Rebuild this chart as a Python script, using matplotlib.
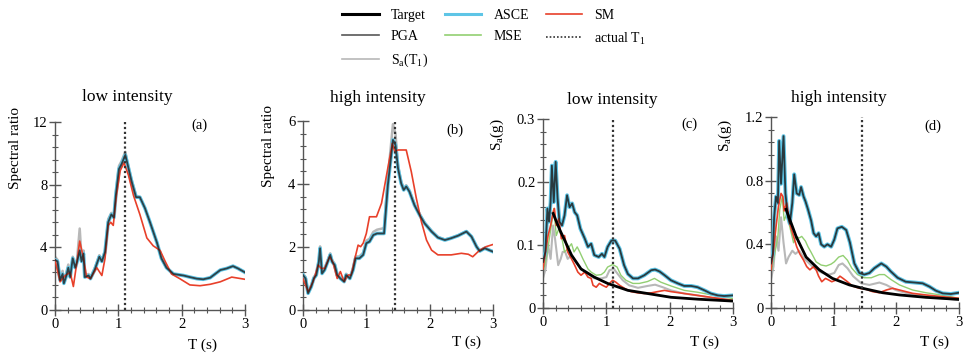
import numpy as np
import matplotlib
matplotlib.use("Agg")
import matplotlib.pyplot as plt
from matplotlib.ticker import MultipleLocator, FuncFormatter
from matplotlib.lines import Line2D

plt.rcParams['font.family'] = ['Liberation Serif', 'DejaVu Serif']
plt.rcParams['mathtext.fontset'] = 'custom'
plt.rcParams['mathtext.rm'] = 'Liberation Serif'

# ---------------- data ----------------
T1_low = 1.1
T1_high = 1.45

# (a) spectral ratio, low intensity -- PGA / ASCE / MSE coincide
a_T = [0, .04, .08, .12, .14, .18, .21, .24, .28, .32, .35, .39, .42, .45, .47, .53, .56, .63,
       .70, .74, .79, .84, .89, .93, .96, 1.01, 1.05, 1.11, 1.14, 1.21, 1.28, 1.34, 1.42, 1.50,
       1.61, 1.68, 1.76, 1.87, 2.03, 2.13, 2.24, 2.34, 2.45, 2.61, 2.71, 2.81, 2.89, 3.0]
a_lin = [3.2, 3.1, 1.9, 2.3, 1.7, 2.2, 2.7, 2.1, 3.3, 2.7, 3.1, 3.8, 3.1, 3.6, 2.1, 2.2, 2.0, 2.6,
         3.4, 3.1, 3.7, 5.6, 6.1, 5.9, 7.3, 9.0, 9.3, 9.9, 9.4, 8.2, 7.2, 7.2, 6.5, 5.6,
         4.3, 3.3, 2.7, 2.3, 2.2, 2.1, 2.0, 1.96, 2.06, 2.55, 2.65, 2.8, 2.65, 2.4]
a_sa = [3.4, 3.2, 2.0, 2.5, 1.8, 2.4, 2.9, 2.2, 3.4, 2.8, 3.3, 5.2, 3.3, 3.8, 2.2, 2.3, 2.1, 2.7,
        3.5, 3.2, 3.8, 5.8, 6.2, 6.0, 7.5, 9.2, 9.5, 10.1, 9.5, 8.3, 7.3, 7.2, 6.5, 5.6,
        4.3, 3.3, 2.7, 2.3, 2.2, 2.1, 2.0, 1.96, 2.06, 2.55, 2.65, 2.8, 2.65, 2.4]
a_sm_T = [0, .08, .16, .24, .29, .34, .39, .45, .50, .56, .66, .74, .79, .84, .88, .92, .97, 1.03,
          1.09, 1.16, 1.24, 1.34, 1.45, 1.55, 1.66, 1.74, 1.84, 1.97, 2.13, 2.29, 2.45, 2.61, 2.79, 3.0]
a_sm = [3.2, 1.8, 2.2, 2.4, 1.5, 2.9, 4.4, 3.3, 2.1, 2.0, 2.7, 2.2, 3.3, 5.4, 5.6, 5.4, 7.3, 8.9,
        9.4, 8.6, 7.3, 6.1, 4.6, 4.1, 3.8, 3.1, 2.3, 2.0, 1.6, 1.55, 1.64, 1.8, 2.1, 1.96]

# (b) spectral ratio, high intensity
b_T = [0, .04, .08, .13, .17, .21, .25, .27, .30, .34, .39, .43, .46, .50, .54, .59, .65, .68,
       .74, .79, .83, .89, .95, 1.0, 1.05, 1.11, 1.17, 1.28, 1.34, 1.42, 1.46, 1.50, 1.55, 1.59,
       1.63, 1.68, 1.76, 1.84, 1.92, 2.03, 2.13, 2.24, 2.34, 2.45, 2.58, 2.66, 2.74, 2.79, 2.87, 3.0]
b_lin = [1.11, 1.0, 0.53, 0.74, 1.0, 1.11, 1.53, 1.96, 1.16, 1.27, 1.53, 1.75, 1.53, 1.43, 1.11,
         1.0, 0.9, 1.11, 1.0, 1.27, 1.64, 1.64, 1.75, 2.12, 2.17, 2.38, 2.43, 2.43, 3.97, 5.4,
         5.24, 4.5, 4.02, 3.81, 3.92, 3.76, 3.33, 3.02, 2.75, 2.49, 2.30, 2.22, 2.28, 2.36, 2.49,
         2.33, 2.01, 1.87, 1.96, 1.85]
b_sa = [1.15, 1.05, 0.56, 0.78, 1.04, 1.15, 1.58, 2.02, 1.2, 1.31, 1.58, 1.8, 1.58, 1.47, 1.15,
        1.04, 0.93, 1.15, 1.04, 1.32, 1.7, 1.7, 1.82, 2.2, 2.26, 2.48, 2.55, 2.6, 4.2, 5.9,
        5.6, 4.6, 4.08, 3.86, 3.96, 3.8, 3.37, 3.06, 2.78, 2.52, 2.32, 2.24, 2.29, 2.37, 2.5,
        2.34, 2.02, 1.88, 1.97, 1.86]
b_sm_T = [0, .08, .16, .24, .29, .34, .42, .47, .54, .59, .65, .71, .76, .82, .87, .91, .95, 1.0,
          1.05, 1.16, 1.24, 1.32, 1.41, 1.45, 1.50, 1.63, 1.71, 1.79, 1.87, 1.95, 2.03, 2.13, 2.34,
          2.50, 2.61, 2.68, 2.79, 2.89, 3.0]
b_sm = [1.0, 0.58, 0.9, 1.43, 1.32, 1.32, 1.69, 1.53, 1.0, 1.22, 0.9, 1.11, 1.11, 1.64, 2.06, 2.01,
        2.12, 2.43, 2.96, 2.96, 3.39, 4.29, 5.29, 5.03, 5.08, 5.08, 4.39, 3.54, 2.80, 2.22, 1.9,
        1.75, 1.75, 1.8, 1.77, 1.69, 1.9, 2.01, 2.08]

# (c) Sa(g), low intensity
c_T = [0, .037, .07, .095, .12, .14, .17, .20, .23, .26, .30, .34, .38, .42, .46, .50, .54, .59,
       .66, .71, .76, .81, .88, .93, .97, 1.02, 1.08, 1.14, 1.21, 1.28, 1.34, 1.42, 1.50, 1.60,
       1.71, 1.77, 1.84, 1.92, 2.02, 2.13, 2.23, 2.34, 2.44, 2.55, 2.65, 2.76, 2.86, 3.0]
c_asce = [.073, .089, .158, .137, .168, .226, .168, .232, .174, .137, .131, .147, .179, .160, .166,
          .152, .147, .126, .110, .097, .102, .084, .081, .086, .081, .097, .107, .107, .094, .068,
          .054, .047, .047, .052, .060, .061, .058, .052, .044, .039, .035, .035, .033, .028, .023,
          .020, .019, .020]
c_sa_T = [0, .04, .08, .12, .16, .19, .24, .28, .31, .35, .39, .45, .52, .60, .71, .81, .92, 1.0,
          1.05, 1.12, 1.18, 1.26, 1.36, 1.5, 1.65, 1.77, 1.89, 2.02, 2.23, 2.44, 2.65, 3.0]
c_sa = [.047, .062, .10, .078, .131, .11, .068, .078, .089, .089, .078, .084, .073, .062, .054,
        .047, .047, .049, .06, .062, .054, .044, .036, .032, .035, .037, .033, .028, .023, .020,
        .016, .012]
c_mse_T = [0, .05, .10, .14, .17, .21, .25, .30, .34, .39, .45, .49, .54, .58, .63, .71, .76, .84,
           .92, .97, 1.02, 1.10, 1.17, 1.23, 1.31, 1.42, 1.52, 1.65, 1.76, 1.86, 2.02, 2.23, 2.44,
           2.65, 3.0]
c_mse = [.057, .078, .11, .137, .158, .115, .126, .11, .089, .094, .102, .089, .097, .089, .078,
         .062, .057, .052, .053, .057, .065, .069, .065, .052, .044, .039, .039, .042, .047, .041,
         .035, .028, .025, .021, .015]
c_sm_T = [0, .04, .08, .12, .16, .18, .21, .25, .29, .34, .39, .45, .50, .55, .60, .66, .71, .76,
          .79, .84, .89, .94, 1.0, 1.05, 1.10, 1.15, 1.21, 1.29, 1.39, 1.5, 1.6, 1.71, 1.81, 1.92,
          2.02, 2.23, 2.44, 2.65, 3.0]
c_sm = [.062, .089, .115, .131, .152, .158, .131, .142, .110, .115, .089, .078, .068, .057, .052,
        .057, .049, .047, .036, .033, .039, .036, .033, .039, .044, .041, .036, .031, .026, .024,
        .023, .024, .026, .028, .026, .023, .020, .017, .012]
c_tgt_T = [.16, .20, .27, .34, .45, .60, .81, 1.02, 1.34, 1.65, 2.02, 2.44, 3.0]
c_tgt = [.15, .14, .123, .108, .084, .062, .049, .039, .028, .023, .017, .014, .011]

# (d) Sa(g), high intensity
d_T = [0, .03, .05, .08, .11, .13, .16, .20, .23, .27, .30, .34, .37, .41, .45, .48, .52, .55,
       .59, .64, .68, .72, .76, .80, .85, .90, .96, 1.01, 1.06, 1.13, 1.20, 1.26, 1.33, 1.41,
       1.49, 1.57, 1.65, 1.76, 1.84, 1.91, 2.02, 2.15, 2.29, 2.42, 2.53, 2.63, 2.74, 2.87, 3.0]
d_asce = [.28, .34, .57, .70, .66, 1.05, .78, 1.08, .72, .57, .53, .66, .84, .72, .71, .76, .70,
          .67, .62, .55, .47, .45, .47, .40, .385, .40, .385, .43, .50, .51, .49, .41, .28, .22,
          .21, .22, .25, .28, .26, .23, .19, .165, .16, .155, .134, .109, .092, .088, .096]
d_sa_T = [0, .04, .08, .12, .16, .20, .24, .28, .34, .39, .45, .53, .61, .72, .82, .93, 1.01, 1.08,
          1.14, 1.22, 1.31, 1.44, 1.57, 1.73, 1.84, 1.99, 2.21, 2.47, 2.74, 3.0]
d_sa = [.18, .26, .45, .36, .57, .41, .28, .32, .36, .34, .36, .31, .28, .24, .22, .21, .22, .27,
        .28, .25, .20, .155, .145, .16, .145, .113, .088, .071, .061, .050]
d_mse_T = [0, .05, .11, .14, .18, .21, .25, .30, .36, .40, .45, .49, .55, .59, .64, .72, .80, .88,
           .96, 1.01, 1.08, 1.15, 1.22, 1.29, 1.38, 1.49, 1.60, 1.73, 1.81, 1.91, 2.05, 2.26, 2.47,
           2.74, 3.0]
d_mse = [.22, .32, .45, .62, .70, .55, .59, .51, .41, .45, .44, .45, .42, .385, .35, .29, .27, .264,
         .276, .29, .32, .33, .30, .25, .21, .19, .19, .21, .21, .18, .145, .113, .096, .08, .061]
d_sm_T = [0, .04, .08, .12, .16, .19, .21, .25, .30, .36, .41, .46, .52, .57, .62, .68, .72, .76,
          .81, .87, .92, .97, 1.04, 1.10, 1.15, 1.22, 1.30, 1.41, 1.52, 1.62, 1.73, 1.84, 1.94,
          2.05, 2.26, 2.47, 2.74, 3.0]
d_sm = [.24, .36, .51, .64, .72, .70, .61, .66, .53, .45, .385, .34, .30, .26, .24, .26, .24, .20,
        .165, .186, .176, .165, .176, .20, .186, .165, .138, .124, .117, .103, .096, .113, .124,
        .113, .092, .082, .071, .061]
d_tgt_T = [.24, .40, .56, .77, .98, 1.25, 1.46, 1.78, 2.05, 2.47, 3.0]
d_tgt = [.62, .45, .32, .24, .186, .145, .124, .096, .082, .067, .054]

# ---------------- styles ----------------
C_TGT = 'black'
C_PGA = '#202020'
C_ASCE = '#5ec5e6'
C_SA = '#b8b8b8'
C_MSE = '#92cf72'
C_SM = '#e8402a'

fig = plt.figure(figsize=(9.63, 3.53), dpi=100)

def W(px):
    return px / 963.0

def H(px):
    return px / 353.0

boxes = [
    (55, 245, 122, 310),
    (303, 493, 121, 310),
    (543, 733, 119, 308),
    (771, 959, 117, 308),
]
axes = []
for l, r, t, b in boxes:
    axes.append(fig.add_axes([W(l), 1 - H(b), W(r - l), H(b - t)]))


def fmt(v, pos):
    if abs(v) < 1e-9:
        return '0'
    return '%g' % round(v, 4)


def style(ax, ymax, major, minor):
    ax.set_xlim(0, 3)
    ax.set_ylim(0, ymax)
    for s in ('top', 'right'):
        ax.spines[s].set_visible(False)
    for s in ('left', 'bottom'):
        ax.spines[s].set_color('#555555')
        ax.spines[s].set_linewidth(1.0)
    ax.xaxis.set_major_locator(MultipleLocator(1))
    ax.xaxis.set_minor_locator(MultipleLocator(0.2))
    ax.yaxis.set_major_locator(MultipleLocator(major))
    ax.yaxis.set_minor_locator(MultipleLocator(minor))
    ax.yaxis.set_major_formatter(FuncFormatter(fmt))
    ax.tick_params(which='major', direction='inout', length=9, width=1.0,
                   color='#555555', labelsize=10.5, pad=1)
    ax.tick_params(which='minor', direction='inout', length=4.5, width=0.8,
                   color='#555555')


def ratio_panel(ax, T, lin, sa, smT, sm, T1):
    ax.plot(T, sa, color=C_SA, lw=1.8, zorder=2)
    ax.plot(T, lin, color=C_MSE, lw=1.0, zorder=2.5)
    ax.plot(T, lin, color=C_ASCE, lw=2.6, zorder=3)
    ax.plot(T, lin, color=C_PGA, lw=1.3, alpha=0.8, zorder=4)
    ax.plot(smT, sm, color=C_SM, lw=1.2, zorder=3.5)
    ax.axvline(T1, color='#333333', ls=(0, (1, 1.2)), lw=1.6, zorder=5)


def sa_panel(ax, T, asce, saT, sa, mseT, mse, smT, sm, tT, tgt, T1):
    ax.plot(saT, sa, color=C_SA, lw=1.5, zorder=2)
    ax.plot(mseT, mse, color=C_MSE, lw=1.0, zorder=2.5)
    ax.plot(T, asce, color=C_ASCE, lw=2.8, zorder=3)
    ax.plot(T, asce, color=C_PGA, lw=1.3, alpha=0.85, zorder=4)
    ax.plot(smT, sm, color=C_SM, lw=1.2, zorder=3.5)
    ax.plot(tT, tgt, color=C_TGT, lw=2.0, zorder=4.5)
    ax.axvline(T1, color='#333333', ls=(0, (1, 1.2)), lw=1.6, zorder=5)


ax_a, ax_b, ax_c, ax_d = axes
ratio_panel(ax_a, a_T, a_lin, a_sa, a_sm_T, a_sm, T1_low)
ratio_panel(ax_b, b_T, b_lin, b_sa, b_sm_T, b_sm, T1_high)
sa_panel(ax_c, c_T, c_asce, c_sa_T, c_sa, c_mse_T, c_mse, c_sm_T, c_sm, c_tgt_T, c_tgt, T1_low)
sa_panel(ax_d, d_T, d_asce, d_sa_T, d_sa, d_mse_T, d_mse, d_sm_T, d_sm, d_tgt_T, d_tgt, T1_high)

style(ax_a, 12, 4, 0.8)
style(ax_b, 6, 2, 0.4)
style(ax_c, 0.3, 0.1, 0.02)
style(ax_d, 1.2, 0.4, 0.08)

titles = ['low intensity', 'high intensity', 'low intensity', 'high intensity']
title_pos = [(0.38, 1.133), (0.395, 1.12), (0.365, 1.10), (0.36, 1.10)]
letters = ['(a)', '(b)', '(c)', '(d)']
letter_pos = [(0.76, 0.985), (0.80, 0.95), (0.77, 0.97), (0.86, 0.95)]
ylabels = ['Spectral ratio', 'Spectral ratio', r'S$_\mathregular{a}$(g)', r'S$_\mathregular{a}$(g)']
ylabel_pos = [(-0.21, 0.86), (-0.18, 0.87), (-0.24, 0.92), (-0.245, 0.905)]
xlabel_pos = [(0.775, -0.186), (0.86, -0.17), (0.85, -0.18), (0.87, -0.18)]

for i, ax in enumerate(axes):
    ax.text(*title_pos[i], titles[i], transform=ax.transAxes, ha='center', va='center',
            fontsize=12.5)
    ax.text(*letter_pos[i], letters[i], transform=ax.transAxes, ha='center', va='center',
            fontsize=10.5)
    ax.text(*ylabel_pos[i], ylabels[i], transform=ax.transAxes, ha='center', va='center',
            rotation=90, fontsize=11)
    ax.text(*xlabel_pos[i], 'T (s)', transform=ax.transAxes, ha='center', va='center',
            fontsize=11)

handles = [
    Line2D([], [], color=C_TGT, lw=2.2),
    Line2D([], [], color=C_PGA, lw=1.2, alpha=0.75),
    Line2D([], [], color=C_SA, lw=1.2),
    Line2D([], [], color=C_ASCE, lw=2.2),
    Line2D([], [], color=C_MSE, lw=1.2),
    Line2D([], [], color=C_SM, lw=1.2),
    Line2D([], [], color='#333333', lw=1.2, ls=(0, (1, 1.2))),
]
labels = ['Target', 'PGA', r'S$_\mathregular{a}$(T$_\mathregular{1}$)', 'ASCE', 'MSE', 'SM',
          r'actual T$_\mathregular{1}$']
fig.legend(handles, labels, loc='upper center', bbox_to_anchor=(0.513, 1.0), ncol=3,
           frameon=False, fontsize=10, handlelength=2.6, handletextpad=0.9,
           columnspacing=1.2, labelspacing=0.6, borderaxespad=0.25)

fig.savefig('out.png', dpi=100)
